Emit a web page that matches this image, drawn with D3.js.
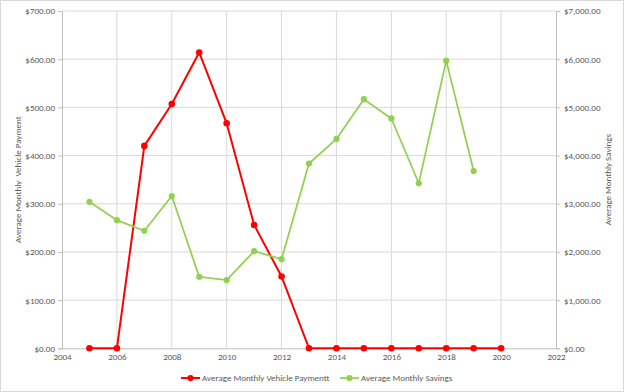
<!DOCTYPE html>
<html><head><meta charset="utf-8">
<script src="https://cdn.jsdelivr.net/npm/d3@7"></script>
<style>body{margin:0;background:#fff}text{font-family:Carlito,"Liberation Sans",Arial,sans-serif;fill:#595959}</style>
</head><body><svg id="c" width="624" height="392"></svg>
<script>
const years = [2005,2006,2007,2008,2009,2010,2011,2012,2013,2014,2015,2016,2017,2018,2019,2020];
const payment = [0,0,420,507,614,467,256,149,0,0,0,0,0,0,0,0];
const savingsYears = [2005,2006,2007,2008,2009,2010,2011,2012,2013,2014,2015,2016,2017,2018,2019];
const savings = [3040,2660,2440,3160,1485,1415,2015,1850,3835,4345,5170,4770,3425,5970,3680];
const xTicks = [2004,2006,2008,2010,2012,2014,2016,2018,2020,2022];
const leftTicks = [0,100,200,300,400,500,600,700];
const rightTicks = [0,1000,2000,3000,4000,5000,6000,7000];
const seriesNames = ["Average Monthly Vehicle Paymentt","Average Monthly Savings"];
const colors = ["#ff0000","#92d050"];

const svg = d3.select("#c");
svg.append("rect").attr("x",0.5).attr("y",0.5).attr("width",623).attr("height",391).attr("fill","#fff").attr("stroke","#d9d9d9");
const L=62,R=556,T=11,B=348.3;
const x = d3.scaleLinear().domain([2004,2022]).range([L,R]);
const yL = d3.scaleLinear().domain([0,700]).range([B,T]);
const yR = d3.scaleLinear().domain([0,7000]).range([B,T]);

// grid
svg.append("g").selectAll("line").data(leftTicks.slice(1)).join("line")
  .attr("x1",L).attr("x2",R).attr("y1",d=>yL(d)).attr("y2",d=>yL(d)).attr("stroke","#d9d9d9");
svg.append("g").selectAll("line").data(xTicks.slice(1,-1)).join("line")
  .attr("x1",d=>x(d)).attr("x2",d=>x(d)).attr("y1",T).attr("y2",B).attr("stroke","#d9d9d9");

const fmt = d => "$" + d3.format(",.2f")(d);
const axL = svg.append("g").attr("transform",`translate(${L},0)`).call(d3.axisLeft(yL).tickValues(leftTicks).tickFormat(fmt).tickSize(4).tickPadding(3));
const axR = svg.append("g").attr("transform",`translate(${R},0)`).call(d3.axisRight(yR).tickValues(rightTicks).tickFormat(fmt).tickSize(4).tickPadding(4));
const axB = svg.append("g").attr("transform",`translate(0,${B})`).call(d3.axisBottom(x).tickValues(xTicks).tickFormat(d3.format("d")).tickSize(0).tickPadding(5));
[axL,axR,axB].forEach(a=>{a.select(".domain").attr("stroke","#bfbfbf");a.selectAll(".tick line").attr("stroke","#bfbfbf");
  a.selectAll("text").attr("font-size","9px").attr("fill","#595959").style("font-family","Carlito,'Liberation Sans',Arial,sans-serif");});

svg.append("text").attr("transform",`translate(21,${(T+B)/2}) rotate(-90)`).attr("text-anchor","middle").attr("font-size","9px").text("Average Monthly  Vehicle Payment").style("white-space","pre");
svg.append("text").attr("transform",`translate(611,${(T+B)/2}) rotate(-90)`).attr("text-anchor","middle").attr("font-size","9px").text("Average Monthly Savings");

// series
const lineL = d3.line().x(d=>x(d[0])).y(d=>yL(d[1]));
const lineR = d3.line().x(d=>x(d[0])).y(d=>yR(d[1]));
const pData = years.map((y,i)=>[y,payment[i]]);
const sData = savingsYears.map((y,i)=>[y,savings[i]]);
svg.append("path").datum(pData).attr("d",lineL).attr("fill","none").attr("stroke",colors[0]).attr("stroke-width",2);
svg.append("g").selectAll("circle").data(pData).join("circle").attr("cx",d=>x(d[0])).attr("cy",d=>yL(d[1])).attr("r",3.3).attr("fill",colors[0]);
svg.append("path").datum(sData).attr("d",lineR).attr("fill","none").attr("stroke",colors[1]).attr("stroke-width",1.75);
svg.append("g").selectAll("circle").data(sData).join("circle").attr("cx",d=>x(d[0])).attr("cy",d=>yR(d[1])).attr("r",3.1).attr("fill",colors[1]);

// legend
const lg = [{x:181,name:seriesNames[0],c:colors[0],w:2},{x:340,name:seriesNames[1],c:colors[1],w:1.75}];
lg.forEach(l=>{
  svg.append("line").attr("x1",l.x).attr("x2",l.x+19).attr("y1",378).attr("y2",378).attr("stroke",l.c).attr("stroke-width",l.w);
  svg.append("circle").attr("cx",l.x+9.5).attr("cy",378).attr("r",3.1).attr("fill",l.c);
  svg.append("text").attr("x",l.x+21).attr("y",381).attr("font-size","9px").text(l.name);
});
</script></body></html>
